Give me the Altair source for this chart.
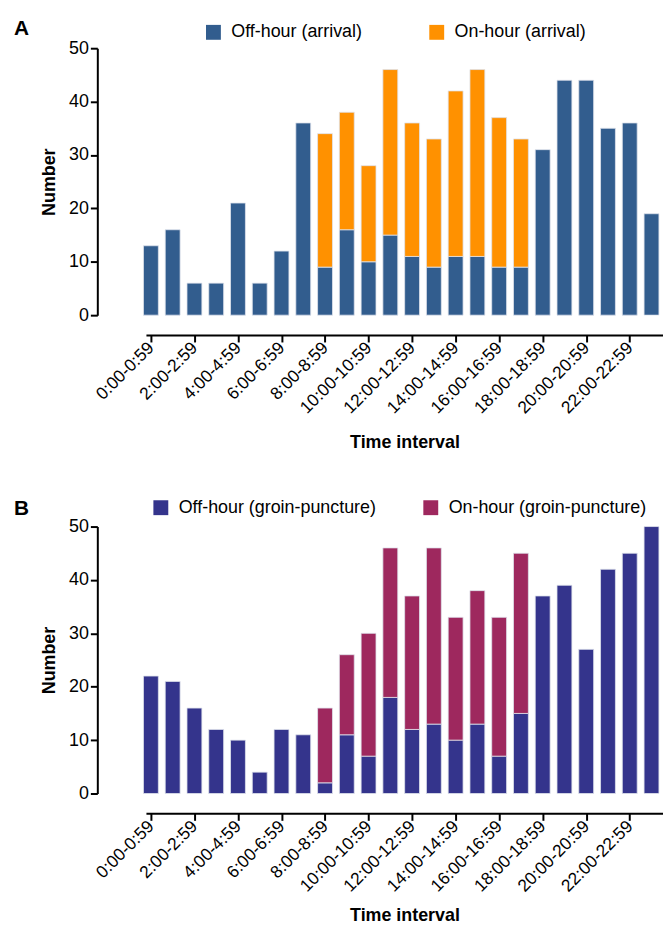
import altair as alt
import pandas as pd

hours = list(range(24))
tick_hours = [0, 2, 4, 6, 8, 10, 12, 14, 16, 18, 20, 22]
tick_labels = ["0:00-0:59", "2:00-2:59", "4:00-4:59", "6:00-6:59", "8:00-8:59",
               "10:00-10:59", "12:00-12:59", "14:00-14:59", "16:00-16:59",
               "18:00-18:59", "20:00-20:59", "22:00-22:59"]

arrival_off = [13, 16, 6, 6, 21, 6, 12, 36, 9, 16, 10, 15, 11, 9, 11, 11, 9, 9, 31, 44, 44, 35, 36, 19]
arrival_on = [0, 0, 0, 0, 0, 0, 0, 0, 25, 22, 18, 31, 25, 24, 31, 35, 28, 24, 0, 0, 0, 0, 0, 0]
groin_off = [22, 21, 16, 12, 10, 4, 12, 11, 2, 11, 7, 18, 12, 13, 10, 13, 7, 15, 37, 39, 27, 42, 45, 50]
groin_on = [0, 0, 0, 0, 0, 0, 0, 0, 14, 15, 23, 28, 25, 33, 23, 25, 26, 30, 0, 0, 0, 0, 0, 0]

FONT = "Liberation Sans"
label_expr = "[" + ",".join("'%s'" % s for s in tick_labels) + "][round(datum.value / 2)]"


def panel(letter, off_name, on_name, off_vals, on_vals, off_color, on_color, legend_x, legend_y,
          col_pad, title_dy, xtitle_pad):
    rows = []
    for h, a, b in zip(hours, off_vals, on_vals):
        rows.append({"hour": h, "group": off_name, "n": a, "k": 0})
        if b > 0:
            rows.append({"hour": h, "group": on_name, "n": b, "k": 1})
    df = pd.DataFrame(rows)

    x = alt.X("hour:Q",
              scale=alt.Scale(domain=[0, 23.3], nice=False, zero=False),
              axis=alt.Axis(values=tick_hours, labelExpr=label_expr, labelAngle=-45,
                            labelAlign="right", labelBaseline="middle",
                            labelFontSize=17.5, labelColor="#000", labelPadding=3,
                            tickSize=7, tickWidth=2, tickColor="#000",
                            domainWidth=2, domainColor="#000", offset=20, grid=False,
                            title="Time interval", titleFontSize=18, titleFontWeight="bold",
                            titleColor="#000", titlePadding=xtitle_pad, labelOverlap=False))
    y = alt.Y("n:Q", stack="zero",
              scale=alt.Scale(domain=[0, 50], nice=False),
              axis=alt.Axis(values=[0, 10, 20, 30, 40, 50], offset=49, grid=False,
                            labelFontSize=18, labelColor="#000", labelPadding=2,
                            tickSize=7, tickWidth=2, tickColor="#000",
                            domainWidth=2, domainColor="#000",
                            title="Number", titleFontSize=18, titleFontWeight="bold",
                            titleColor="#000", titlePadding=10))
    color = alt.Color("group:N",
                      scale=alt.Scale(domain=[off_name, on_name], range=[off_color, on_color]),
                      legend=alt.Legend(orient="none", legendX=legend_x, legendY=legend_y,
                                        direction="horizontal", title=None,
                                        symbolType="square", symbolSize=225,
                                        symbolStrokeWidth=0, labelFontSize=18,
                                        labelColor="#000", columnPadding=col_pad,
                                        labelOffset=9, labelLimit=400))
    base = alt.Chart(df).encode(x=x, y=y, color=color, order=alt.Order("k:Q"))
    main = base.mark_bar(width=15, stroke="#dfe3ec", strokeWidth=0.8).transform_filter("datum.hour < 23")
    last = base.mark_bar(width=15, stroke="#dfe3ec", strokeWidth=0.8, clip=True).transform_filter("datum.hour >= 23")
    return alt.layer(main, last).properties(
        width=521, height=269,
        title=alt.TitleParams(letter, anchor="start", frame="bounds", fontSize=21,
                              fontWeight="bold", color="#000", dx=-27, dy=title_dy))


pa = panel("A", "Off-hour (arrival)", "On-hour (arrival)", arrival_off, arrival_on,
           "#325d8e", "#ff9100", 59, -25, 66, 20, 17)
pb = panel("B", "Off-hour (groin-puncture)", "On-hour (groin-puncture)", groin_off, groin_on,
           "#34348c", "#9e285e", 6, -28, 46, 24, 12)

chart = alt.vconcat(pa, pb, spacing=46).resolve_scale(color="independent").resolve_legend(
    color="independent").configure(font=FONT).configure_view(stroke=None).properties(
    padding={"left": 5, "top": 7, "right": 0, "bottom": 0})

chart.save("out.html", embed_options={"renderer": "svg", "actions": False})
